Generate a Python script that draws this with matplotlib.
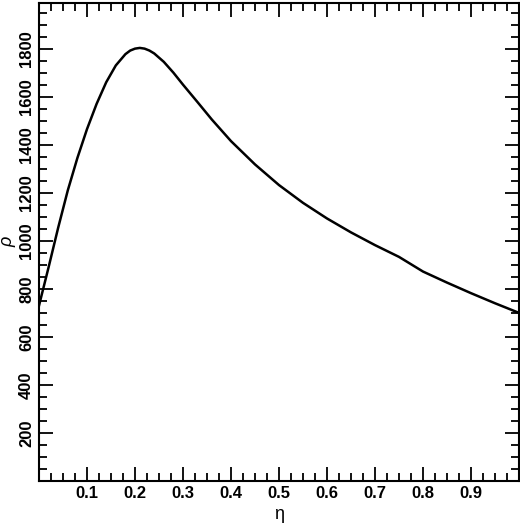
import matplotlib
matplotlib.use("Agg")
import matplotlib.pyplot as plt
from matplotlib.ticker import MultipleLocator

plt.rcParams["font.family"] = ["Liberation Sans", "DejaVu Sans"]

eta = [0.0, 0.02, 0.04, 0.06, 0.08, 0.10, 0.12, 0.14, 0.16, 0.18, 0.19, 0.20, 0.21,
       0.22, 0.23, 0.24, 0.26, 0.28, 0.30, 0.33, 0.36, 0.40, 0.45, 0.50, 0.55,
       0.60, 0.65, 0.70, 0.75, 0.80, 0.85, 0.90, 0.95, 1.00]
rho = [730, 890, 1055, 1210, 1345, 1465, 1570, 1660, 1730, 1777, 1792, 1800, 1803,
       1800, 1792, 1780, 1745, 1700, 1650, 1578, 1505, 1415, 1318, 1232, 1158,
       1093, 1035, 982, 933, 872, 826, 782, 740, 700]

fig = plt.figure(figsize=(5.2, 5.27), dpi=100)
ax = fig.add_axes([39 / 520, 1 - 481 / 527, 480 / 520, 478 / 527])
ax.plot(eta, rho, color="black", lw=1.8)
ax.set_xlim(0, 1)
ax.set_ylim(0, 1990)
ax.xaxis.set_minor_locator(MultipleLocator(0.025))
ax.yaxis.set_minor_locator(MultipleLocator(50))
ax.set_xticks([0.1 * i for i in range(1, 10)])
ax.set_xticklabels(["0.1", "0.2", "0.3", "0.4", "0.5", "0.6", "0.7", "0.8", "0.9"])
ax.set_yticks(range(200, 2000, 200))
ax.tick_params(which="both", direction="in", top=True, right=True, width=1.3)
ax.tick_params(which="major", length=10)
ax.tick_params(which="minor", length=6)
for lab in ax.get_xticklabels() + ax.get_yticklabels():
    lab.set_fontweight("bold")
    lab.set_fontsize(12)
for lab in ax.get_yticklabels():
    lab.set_rotation(90)
    lab.set_va("center")
for s in ax.spines.values():
    s.set_linewidth(1.5)
ax.set_xlabel("η", fontsize=13)
ax.set_ylabel("ρ", fontsize=13, style="italic", labelpad=2)
fig.savefig("out.png", dpi=100)
